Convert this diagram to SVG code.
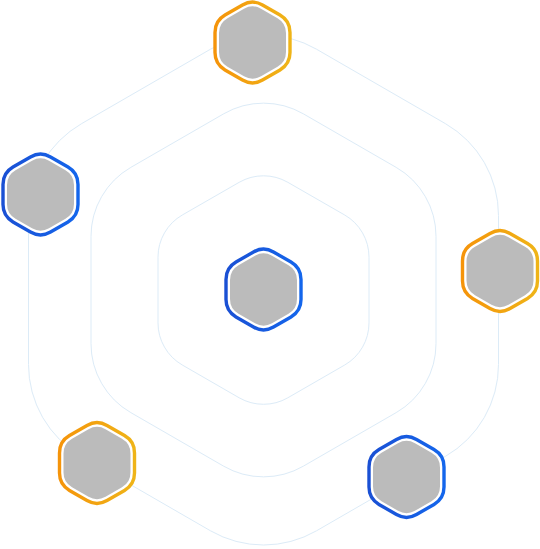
<svg xmlns="http://www.w3.org/2000/svg" xmlns:xlink="http://www.w3.org/1999/xlink" width="540" height="549" viewBox="0 0 540 549">
  <style>
    .ring { fill: none; stroke: #dcebf7; stroke-width: 1; }
    .frame { fill: #ffffff; stroke-width: 3.4; }
    .orange { stroke: url(#gOrange); }
    .blue { stroke: url(#gBlue); }
    .core { fill: #bbbbbb; }
  </style>
  <defs>
    <linearGradient id="gOrange" x1="0" y1="0" x2="1" y2="0">
      <stop offset="0" stop-color="#f5940a"/>
      <stop offset="1" stop-color="#efb418"/>
    </linearGradient>
    <linearGradient id="gBlue" x1="0" y1="0" x2="1" y2="0">
      <stop offset="0" stop-color="#1a50d4"/>
      <stop offset="1" stop-color="#1466ec"/>
    </linearGradient>
    <path id="hexOuter" d="M-10,-37.53 A20,20 0 0 1 10,-37.53 L27.5,-27.42 A20,20 0 0 1 37.5,-10.1 L37.5,10.1 A20,20 0 0 1 27.5,27.42 L10,37.53 A20,20 0 0 1 -10,37.53 L-27.5,27.42 A20,20 0 0 1 -37.5,10.1 L-37.5,-10.1 A20,20 0 0 1 -27.5,-27.42 Z"/>
    <path id="hexInner" d="M-8.5,-33.77 A17,17 0 0 1 8.5,-33.77 L25,-24.25 A17,17 0 0 1 33.5,-9.53 L33.5,9.53 A17,17 0 0 1 25,24.25 L8.5,33.77 A17,17 0 0 1 -8.5,33.77 L-25,24.25 A17,17 0 0 1 -33.5,9.53 L-33.5,-9.53 A17,17 0 0 1 -25,-24.25 Z"/>
  </defs>

  <g id="connectors">
    <path class="ring" d="M210.5,49.2 A106,106 0 0 1 316.5,49.2 L445.5,123.7 A106,106 0 0 1 498.5,215.5 L498.5,364.5 A106,106 0 0 1 445.5,456.3 L316.5,530.8 A106,106 0 0 1 210.5,530.8 L81.5,456.3 A106,106 0 0 1 28.5,364.5 L28.5,215.5 A106,106 0 0 1 81.5,123.7 Z"/>
    <path class="ring" d="M223.7,113.8 A79.7,79.7 0 0 1 303.3,113.8 L396.2,167.4 A79.7,79.7 0 0 1 436,236.4 L436,343.6 A79.7,79.7 0 0 1 396.2,412.6 L303.3,466.2 A79.7,79.7 0 0 1 223.7,466.2 L130.8,412.6 A79.7,79.7 0 0 1 91,343.6 L91,236.4 A79.7,79.7 0 0 1 130.8,167.4 Z"/>
    <path class="ring" d="M239.2,182.3 A48.7,48.7 0 0 1 287.8,182.3 L344.7,215 A48.7,48.7 0 0 1 369,257.2 L369,322.8 A48.7,48.7 0 0 1 344.7,365 L287.8,397.8 A48.7,48.7 0 0 1 239.2,397.8 L182.3,365 A48.7,48.7 0 0 1 158,322.8 L158,257.2 A48.7,48.7 0 0 1 182.3,215 Z"/>
  </g>

  <g id="node-top" transform="translate(252.5,42.5)">
    <use xlink:href="#hexOuter" class="frame orange"/>
    <use xlink:href="#hexInner" class="core"/>
  </g>
  <g id="node-left" transform="translate(40.5,194.5)">
    <use xlink:href="#hexOuter" class="frame blue"/>
    <use xlink:href="#hexInner" class="core"/>
  </g>
  <g id="node-right" transform="translate(500,271)">
    <use xlink:href="#hexOuter" class="frame orange"/>
    <use xlink:href="#hexInner" class="core"/>
  </g>
  <g id="node-center" transform="translate(263.5,289.5)">
    <use xlink:href="#hexOuter" class="frame blue"/>
    <use xlink:href="#hexInner" class="core"/>
  </g>
  <g id="node-bottom-left" transform="translate(97,463)">
    <use xlink:href="#hexOuter" class="frame orange"/>
    <use xlink:href="#hexInner" class="core"/>
  </g>
  <g id="node-bottom-right" transform="translate(406.5,477)">
    <use xlink:href="#hexOuter" class="frame blue"/>
    <use xlink:href="#hexInner" class="core"/>
  </g>
</svg>
